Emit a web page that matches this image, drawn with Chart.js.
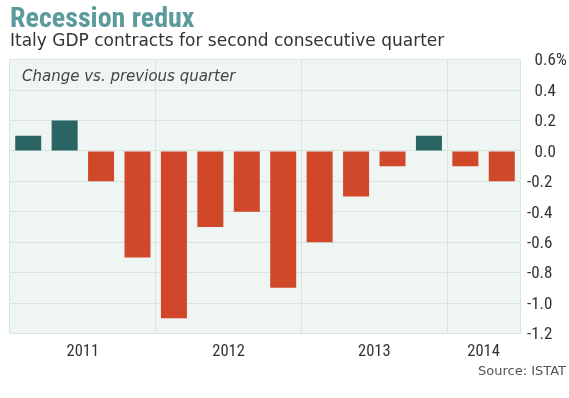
<!DOCTYPE html>
<html>
<head>
<meta charset="utf-8">
<script src="https://cdn.jsdelivr.net/npm/chart.js@4/dist/chart.umd.min.js"></script>
<style>
  html, body { margin: 0; padding: 0; background: #ffffff; }
  #wrap { position: relative; width: 569px; height: 398px; }
</style>
</head>
<body>
<div id="wrap"><canvas id="c" width="569" height="398"></canvas></div>
<script>
// ---- Data ----
const categories = ['2011 Q1','2011 Q2','2011 Q3','2011 Q4',
                    '2012 Q1','2012 Q2','2012 Q3','2012 Q4',
                    '2013 Q1','2013 Q2','2013 Q3','2013 Q4',
                    '2014 Q1','2014 Q2'];
const gdpChange = [0.1, 0.2, -0.2, -0.7,
                   -1.1, -0.5, -0.4, -0.9,
                   -0.6, -0.3, -0.1, 0.1,
                   -0.1, -0.2];
const yearLabels = ['2011', '2012', '2013', '2014'];
const yTickLabels = ['-1.2','-1.0','-0.8','-0.6','-0.4','-0.2','0.0','0.2','0.4','0.6%'];
const titleText = 'Recession redux';
const subtitleText = 'Italy GDP contracts for second consecutive quarter';
const noteText = 'Change vs. previous quarter';
const sourceText = 'Source: ISTAT';

// ---- Derived helpers ----
const yearOf = c => c.split(' ')[0];
const yearCenters = yearLabels.map(y => {
  const idx = categories.map((c, i) => yearOf(c) === y ? i : null).filter(v => v !== null);
  return (idx[0] + idx[idx.length - 1]) / 2;
});
const boundaryIdx = new Set([0, categories.length]);
categories.forEach((c, i) => { if (i > 0 && yearOf(c) !== yearOf(categories[i - 1])) boundaryIdx.add(i); });

const NARROW = "'Roboto Condensed', 'Liberation Sans', sans-serif";
const VERD = "'DejaVu Sans', Verdana, sans-serif";
const gridColor = '#d7e5e1';
const plotBg = '#eff5f2';

const plotBgPlugin = {
  id: 'plotBg',
  beforeDraw(chart) {
    const { ctx, chartArea: a } = chart;
    ctx.save();
    ctx.fillStyle = plotBg;
    ctx.fillRect(a.left, a.top, a.right - a.left, a.bottom - a.top);
    ctx.restore();
  }
};
const textPlugin = {
  id: 'extraText',
  afterDatasetsDraw(chart) {
    const { ctx, chartArea: a } = chart;
    ctx.save();
    ctx.font = 'oblique 15px ' + VERD;
    ctx.fillStyle = '#444444';
    ctx.textAlign = 'left';
    ctx.textBaseline = 'alphabetic';
    ctx.fillText(noteText, a.left + 12, a.top + 21);
    ctx.font = '13px ' + VERD;
    ctx.fillStyle = '#555555';
    ctx.textAlign = 'right';
    ctx.fillText(sourceText, 566, 375);
    ctx.restore();
  }
};

new Chart(document.getElementById('c'), {
  type: 'bar',
  data: {
    labels: categories,
    datasets: [{
      data: gdpChange,
      backgroundColor: ctx => (ctx.raw >= 0 ? '#2b6563' : '#d1472a'),
      borderWidth: 0,
      barPercentage: 0.714,
      categoryPercentage: 1.0
    }]
  },
  options: {
    responsive: false,
    animation: false,
    layout: { padding: { left: 10, right: 0, top: 0, bottom: 36.5 } },
    plugins: {
      legend: { display: false },
      tooltip: { enabled: false },
      title: {
        display: true, text: titleText, align: 'start',
        color: '#5b9a9d',
        font: { family: NARROW, size: 28, weight: 'bold', lineHeight: 0.93 },
        padding: { top: 7, bottom: 0 }
      },
      subtitle: {
        display: true, text: subtitleText, align: 'start',
        color: '#333333',
        font: { family: VERD, size: 17, lineHeight: 1.0 },
        padding: { top: 0, bottom: 9.6 }
      }
    },
    scales: {
      x: {
        type: 'category',
        position: 'bottom',
        offset: true,
        grid: {
          offset: true,
          drawTicks: false,
          color: ctx => (boundaryIdx.has(ctx.index) ? gridColor : 'rgba(0,0,0,0)'),
          lineWidth: 1
        },
        border: { display: true, color: gridColor },
        ticks: { display: false },
        afterFit: s => { s.height = 0; }
      },
      x2: {
        type: 'linear',
        position: 'bottom',
        offset: false,
        min: -0.5,
        max: categories.length - 0.5,
        grid: { display: false, drawTicks: false },
        border: { display: false },
        afterBuildTicks: s => { s.ticks = yearCenters.map(v => ({ value: v })); },
        ticks: {
          autoSkip: false, maxRotation: 0, padding: 8,
          color: '#333333',
          font: { family: NARROW, size: 16.5 },
          callback: (v, i) => yearLabels[i]
        },
        afterFit: s => { s.height = 28; }
      },
      y: {
        position: 'right',
        min: -1.2,
        max: 0.6,
        grid: { color: gridColor, drawTicks: false },
        border: { display: true, color: gridColor },
        ticks: {
          stepSize: 0.2,
          padding: 7,
          crossAlign: 'near',
          labelOffset: 1.5,
          color: '#333333',
          font: { family: NARROW, size: 17 },
          callback: (v, i) => {
            const t = yTickLabels[i];
            return t.startsWith('-') ? t : '\u2002' + t;
          }
        },
        afterFit: s => { s.width = 49; }
      }
    }
  },
  plugins: [plotBgPlugin, textPlugin]
});
</script>
</body>
</html>
